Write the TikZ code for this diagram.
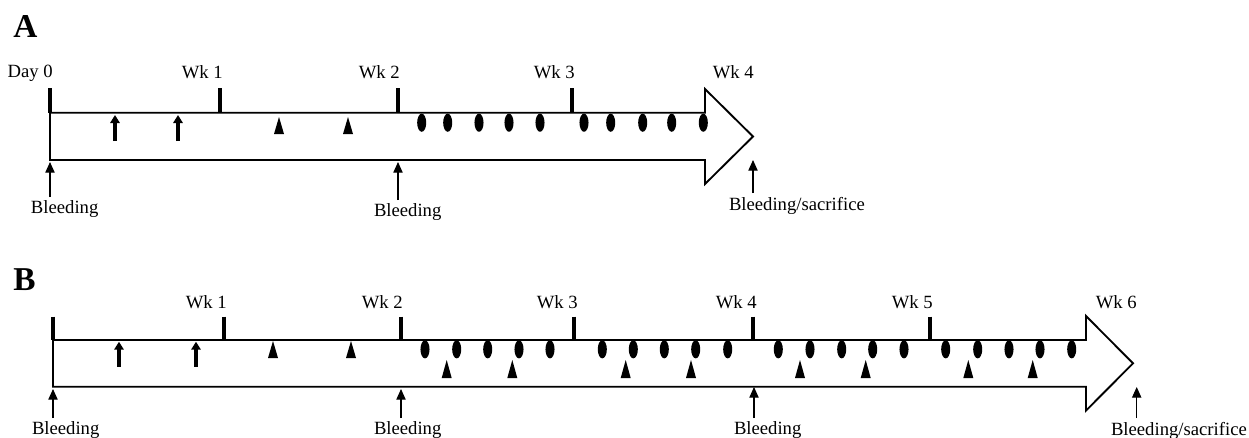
\documentclass[tikz,border=0pt]{standalone}
\usepackage{fontspec}
\setmainfont{Liberation Serif}
\usetikzlibrary{arrows.meta}

\tikzset{
  timeline/.style={draw=black, line width=1.4pt, line join=miter, fill=none},
  weektick/.style={black, line width=2.4pt},
  wklabel/.style={font=\fontsize{14}{16}\selectfont, inner sep=0pt, anchor=north east},
  bleedlabel/.style={font=\fontsize{14}{16}\selectfont, inner sep=0pt, outer sep=3pt, anchor=north west},
  panellabel/.style={font=\fontsize{25}{28}\selectfont\bfseries, inner sep=0pt, anchor=north west},
  bleedarrow/.style={black, line width=0.8pt, -{Triangle[width=7pt,length=8pt]}},
  doseup/.style={black, line width=3.2pt, -{Triangle[width=7pt,length=6pt]}},
}

\begin{document}
\begin{tikzpicture}[x=0.75pt,y=-0.75pt]
\useasboundingbox (0,0) rectangle (1249,437);

%%% panel A: 4 weeks
\node[panellabel] (panelA) at (13,15) {A};
\draw [timeline] (50,112.7) -- (705,112.7) -- (705,89) -- (753,136.5) -- (705,184) -- (705,160) -- (50,160) -- cycle;
\draw [weektick] (50,88) -- (50,112.7);
\draw [weektick] (220,88) -- (220,112.7);
\draw [weektick] (398,88) -- (398,112.7);
\draw [weektick] (572,88) -- (572,112.7);
\node[wklabel] (wkA0) at (53,65) {Day 0};
\node[wklabel] (wkA1) at (223,65) {Wk 1};
\node[wklabel] (wkA2) at (400,65) {Wk 2};
\node[wklabel] (wkA3) at (575,65) {Wk 3};
\node[wklabel] (wkA4) at (754,65) {Wk 4};
% priming doses
\draw [doseup] (115,141) -- (115,115);
\draw [doseup] (178,141) -- (178,115);
% boosts
\fill (279,117) -- ++(5,17) -- ++(-10,0) -- cycle;
\fill (348,117) -- ++(5,17) -- ++(-10,0) -- cycle;
% challenges
\fill (421.7,122.7) ellipse [x radius=3.4pt, y radius=6.8pt];
\fill (447.7,122.7) ellipse [x radius=3.4pt, y radius=6.8pt];
\fill (479,122.7) ellipse [x radius=3.4pt, y radius=6.8pt];
\fill (509,122.7) ellipse [x radius=3.4pt, y radius=6.8pt];
\fill (540,122.7) ellipse [x radius=3.4pt, y radius=6.8pt];
\fill (584,122.7) ellipse [x radius=3.4pt, y radius=6.8pt];
\fill (610.7,122.7) ellipse [x radius=3.4pt, y radius=6.8pt];
\fill (642.7,122.7) ellipse [x radius=3.4pt, y radius=6.8pt];
\fill (671.7,122.7) ellipse [x radius=3.4pt, y radius=6.8pt];
\fill (703.3,122.7) ellipse [x radius=3.4pt, y radius=6.8pt];
% bleedings
\coordinate (tipA0) at (50,162);
\coordinate (tipA2) at (398,162);
\coordinate (tipA4) at (753,160);
\node[bleedlabel] (bleedA0) at (27,197) {Bleeding};
\node[bleedlabel] (bleedA2) at (370,200) {Bleeding};
\node[bleedlabel] (bleedA4) at (725,193) {Bleeding/sacrifice};
\draw [bleedarrow] (tipA0 |- bleedA0.north) -- (tipA0);
\draw [bleedarrow] (tipA2 |- bleedA2.north) -- (tipA2);
\draw [bleedarrow] (tipA4 |- bleedA4.north) -- (tipA4);

%%% panel B: 6 weeks
\node[panellabel] (panelB) at (13,268) {B};
\draw [timeline] (53,340) -- (1086,340) -- (1086,316) -- (1133,363.3) -- (1086,410.6) -- (1086,386.7) -- (53,386.7) -- cycle;
\draw [weektick] (53,316.7) -- (53,340);
\draw [weektick] (224,316.7) -- (224,340);
\draw [weektick] (401,316.7) -- (401,340);
\draw [weektick] (574,316.7) -- (574,340);
\draw [weektick] (753,316.7) -- (753,340);
\draw [weektick] (930,316.7) -- (930,340);
\node[wklabel] (wkB1) at (227,295) {Wk 1};
\node[wklabel] (wkB2) at (403,295) {Wk 2};
\node[wklabel] (wkB3) at (578,295) {Wk 3};
\node[wklabel] (wkB4) at (757,295) {Wk 4};
\node[wklabel] (wkB5) at (933,295) {Wk 5};
\node[wklabel] (wkB6) at (1137,295) {Wk 6};
% priming doses
\draw [doseup] (119,366.7) -- (119,341.7);
\draw [doseup] (196,366.7) -- (196,341.7);
% boosts
\fill (273,341) -- ++(5,17) -- ++(-10,0) -- cycle;
\fill (351,341) -- ++(5,17) -- ++(-10,0) -- cycle;
% challenges
\fill (425,349.3) ellipse [x radius=3.4pt, y radius=6.8pt];
\fill (456.7,349.3) ellipse [x radius=3.4pt, y radius=6.8pt];
\fill (487.7,349.3) ellipse [x radius=3.4pt, y radius=6.8pt];
\fill (519,349.3) ellipse [x radius=3.4pt, y radius=6.8pt];
\fill (550,349.3) ellipse [x radius=3.4pt, y radius=6.8pt];
\fill (602.3,349.3) ellipse [x radius=3.4pt, y radius=6.8pt];
\fill (633.3,349.3) ellipse [x radius=3.4pt, y radius=6.8pt];
\fill (664.3,349.3) ellipse [x radius=3.4pt, y radius=6.8pt];
\fill (695.7,349.3) ellipse [x radius=3.4pt, y radius=6.8pt];
\fill (727.7,349.3) ellipse [x radius=3.4pt, y radius=6.8pt];
\fill (778.3,349.3) ellipse [x radius=3.4pt, y radius=6.8pt];
\fill (810,349.3) ellipse [x radius=3.4pt, y radius=6.8pt];
\fill (841.7,349.3) ellipse [x radius=3.4pt, y radius=6.8pt];
\fill (872.7,349.3) ellipse [x radius=3.4pt, y radius=6.8pt];
\fill (904,349.3) ellipse [x radius=3.4pt, y radius=6.8pt];
\fill (945.7,349.3) ellipse [x radius=3.4pt, y radius=6.8pt];
\fill (977.7,349.3) ellipse [x radius=3.4pt, y radius=6.8pt];
\fill (1009,349.3) ellipse [x radius=3.4pt, y radius=6.8pt];
\fill (1040,349.3) ellipse [x radius=3.4pt, y radius=6.8pt];
\fill (1071.7,349.3) ellipse [x radius=3.4pt, y radius=6.8pt];
% boosts between challenges
\fill (446.7,360) -- ++(5,18) -- ++(-10,0) -- cycle;
\fill (512.3,360) -- ++(5,18) -- ++(-10,0) -- cycle;
\fill (625.7,360) -- ++(5,18) -- ++(-10,0) -- cycle;
\fill (691,360) -- ++(5,18) -- ++(-10,0) -- cycle;
\fill (800,360) -- ++(5,18) -- ++(-10,0) -- cycle;
\fill (865.7,360) -- ++(5,18) -- ++(-10,0) -- cycle;
\fill (968.3,360) -- ++(5,18) -- ++(-10,0) -- cycle;
\fill (1032.7,360) -- ++(5,18) -- ++(-10,0) -- cycle;
% bleedings
\coordinate (tipB0) at (53,389);
\coordinate (tipB2) at (401,389);
\coordinate (tipB4) at (754,387);
\coordinate (tipB6) at (1136.7,387);
\node[bleedlabel] (bleedB0) at (28,418) {Bleeding};
\node[bleedlabel] (bleedB2) at (370,418) {Bleeding};
\node[bleedlabel] (bleedB4) at (730,418) {Bleeding};
\node[bleedlabel] (bleedB6) at (1107,418) {Bleeding/sacrifice};
\draw [bleedarrow] (tipB0 |- bleedB0.north) -- (tipB0);
\draw [bleedarrow] (tipB2 |- bleedB2.north) -- (tipB2);
\draw [bleedarrow] (tipB4 |- bleedB4.north) -- (tipB4);
\draw [bleedarrow] (tipB6 |- bleedB6.north) -- (tipB6);
\end{tikzpicture}
\end{document}
